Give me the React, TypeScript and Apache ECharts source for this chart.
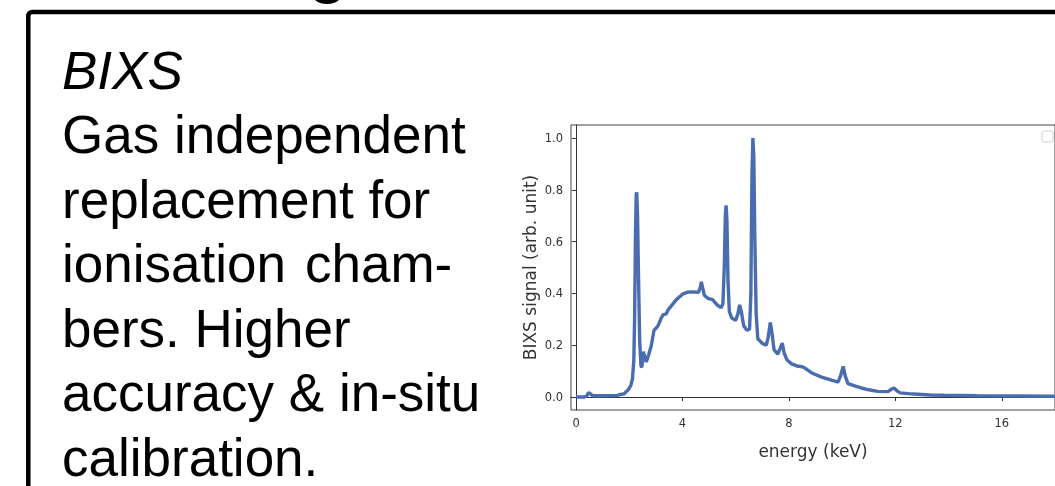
import React, { useEffect, useRef } from "react";
import * as echarts from "echarts";

const energy = [
  0, 0.3, 0.4, 0.47, 0.55, 0.62, 1.0, 1.55, 1.62, 1.8, 1.96, 2.06, 2.12, 2.17, 2.2, 2.23, 2.26, 2.28, 2.31, 2.35,
  2.39, 2.44, 2.47, 2.53, 2.57, 2.64, 2.72, 2.83, 2.93, 3.0, 3.08, 3.18, 3.27, 3.38, 3.47, 3.58, 3.77, 4.0, 4.2,
  4.4, 4.6, 4.66, 4.71, 4.76, 4.82, 4.95, 5.13, 5.3, 5.45, 5.52, 5.57, 5.61, 5.64, 5.67, 5.71, 5.76, 5.85, 6.0,
  6.08, 6.15, 6.21, 6.3, 6.42, 6.52, 6.57, 6.61, 6.645, 6.68, 6.72, 6.77, 6.83, 7.0, 7.15, 7.22, 7.3, 7.36, 7.44,
  7.58, 7.66, 7.75, 7.82, 7.93, 8.1, 8.3, 8.5, 8.6, 8.86, 9.23, 9.6, 9.85, 9.95, 10.04, 10.12, 10.22, 10.5, 10.72,
  11.0, 11.34, 11.72, 11.85, 11.95, 12.05, 12.18, 12.5, 12.83, 13.3, 13.83, 15.07, 16.5, 18,
];
const signal = [
  0.0, 0.0, 0.004, 0.017, 0.012, 0.005, 0.005, 0.006, 0.009, 0.012, 0.028, 0.045, 0.07, 0.14, 0.3, 0.6, 0.78, 0.79,
  0.7, 0.45, 0.22, 0.12, 0.115, 0.175, 0.16, 0.135, 0.16, 0.2, 0.258, 0.265, 0.275, 0.3, 0.318, 0.32, 0.338, 0.352,
  0.376, 0.397, 0.405, 0.406, 0.404, 0.42, 0.445, 0.42, 0.393, 0.381, 0.376, 0.356, 0.345, 0.36, 0.5, 0.7, 0.74,
  0.68, 0.45, 0.33, 0.305, 0.296, 0.32, 0.356, 0.33, 0.275, 0.258, 0.262, 0.4, 0.85, 1.0, 0.93, 0.6, 0.32, 0.225,
  0.207, 0.2, 0.23, 0.288, 0.25, 0.183, 0.166, 0.185, 0.208, 0.17, 0.143, 0.128, 0.12, 0.117, 0.112, 0.093, 0.077,
  0.065, 0.058, 0.085, 0.118, 0.08, 0.052, 0.042, 0.035, 0.028, 0.022, 0.021, 0.03, 0.035, 0.025, 0.016, 0.013,
  0.011, 0.008, 0.007, 0.005, 0.004, 0.003,
];
const xTicks = [0, 4, 8, 12, 16];
const yTicks = [0, 0.2, 0.4, 0.6, 0.8, 1.0];
const heading = "BIXS";
const bodyLines = ["Gas independent", "replacement for", "ionisation", "bers. Higher", "accuracy & in-situ", "calibration."];
const hyphenWord = "cham-";
const xName = "energy (keV)";
const yName = "BIXS signal (arb. unit)";

const FONT = '"Liberation Sans", Arial, sans-serif';
const PLOT_FONT = '"DejaVu Sans", sans-serif';

export default function App() {
  const ref = useRef<HTMLDivElement>(null);
  useEffect(() => {
    if (!ref.current) return;
    const chart = echarts.init(ref.current, null, { renderer: "svg" });
    const mids = [70, 134.5, 199, 263.5, 328, 392.5, 457];
    const texts: any[] = [];
    texts.push({
      type: "text",
      x: 62,
      y: mids[0],
      style: { text: heading, font: `italic 53px ${FONT}`, fill: "#000", verticalAlign: "middle" },
    });
    bodyLines.forEach((t, i) => {
      texts.push({
        type: "text",
        x: 62,
        y: mids[i + 1],
        style: { text: t, font: `53px ${FONT}`, fill: "#000", verticalAlign: "middle" },
      });
    });
    texts.push({
      type: "text",
      x: 305,
      y: mids[3],
      style: { text: hyphenWord, font: `53px ${FONT}`, fill: "#000", verticalAlign: "middle" },
    });
    const data = energy.map((e, i) => [e, signal[i]]);
    chart.setOption({
      animation: false,
      grid: { left: 571, top: 125, width: 487, height: 285, show: true, borderColor: "#444", borderWidth: 1 },
      xAxis: {
        type: "value",
        min: -0.19,
        max: 18,
        splitLine: { show: false },
        axisLine: { lineStyle: { color: "#333" } },
        axisTick: { show: true, length: 4, customValues: xTicks, lineStyle: { color: "#333" } },
        axisLabel: { customValues: xTicks, color: "#333", fontSize: 11.5, fontFamily: PLOT_FONT, margin: 7 },
        name: xName,
        nameLocation: "middle",
        nameGap: 32,
        nameTextStyle: { color: "#333", fontSize: 17, fontFamily: PLOT_FONT },
      },
      yAxis: {
        type: "value",
        min: -0.05,
        max: 1.05,
        splitLine: { show: false },
        axisLine: { show: true, lineStyle: { color: "#333" } },
        axisTick: { show: true, length: 4, customValues: yTicks, lineStyle: { color: "#333" } },
        axisLabel: {
          customValues: yTicks,
          color: "#333",
          fontSize: 11.5,
          fontFamily: PLOT_FONT,
          margin: 8,
          formatter: (v: number) => v.toFixed(1),
        },
        name: yName,
        nameLocation: "middle",
        nameGap: 33,
        nameRotate: 90,
        nameTextStyle: { color: "#333", fontSize: 17, fontFamily: PLOT_FONT },
      },
      series: [
        {
          type: "line",
          data,
          showSymbol: false,
          lineStyle: { color: "#4a6db0", width: 3.4 },
          clip: true,
        },
      ],
      graphic: [
        {
          type: "rect",
          shape: { x: 28.3, y: 12, width: 1200, height: 700, r: 4 },
          style: { fill: "none", stroke: "#000", lineWidth: 4.5 },
        },
        {
          type: "ellipse",
          shape: { cx: 327, cy: -6, rx: 15, ry: 10 },
          style: { fill: "#000" },
        },
        {
          type: "rect",
          shape: { x: 1042, y: 131, width: 11, height: 11, r: 2 },
          style: { fill: "#fff", stroke: "#d0d0d0", lineWidth: 1 },
        },
        ...texts,
      ],
    });
    return () => chart.dispose();
  }, []);
  return <div ref={ref} style={{ position: "fixed", left: 0, top: 0, width: 1055, height: 486 }} />;
}
